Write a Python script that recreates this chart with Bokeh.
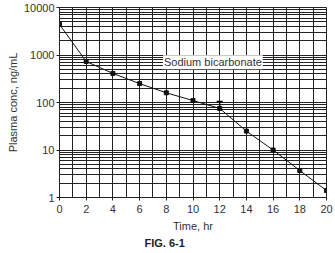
from bokeh.plotting import figure
from bokeh.models import ColumnDataSource, FixedTicker, Label, Whisker, Title, CustomJSTickFormatter
from bokeh.embed import file_html
from bokeh.resources import INLINE

time_hr = [0, 2, 4, 6, 8, 10, 12, 14, 16, 18, 20]
conc = [4400, 730, 410, 250, 160, 110, 75, 25, 10, 3.7, 1.4]
err_time = [12]
err_upper = [105]
x_ticks = [0, 2, 4, 6, 8, 10, 12, 14, 16, 18, 20]
y_ticks = [1, 10, 100, 1000, 10000]
annotation_text = "Sodium bicarbonate"
caption = "FIG. 6-1"

FONT = "Liberation Sans"

p = figure(width=335, height=253, x_range=(0, 20), y_range=(1, 10000),
           y_axis_type="log", output_backend="svg", toolbar_location=None,
           min_border_left=59, min_border_right=9, min_border_top=7, min_border_bottom=56)
p.background_fill_color = "white"
p.border_fill_color = "white"
p.outline_line_color = "#222222"
p.outline_line_width = 1

# grids
p.xgrid.ticker = FixedTicker(ticks=list(range(0, 21)))
p.xgrid.grid_line_color = "#222222"
p.xgrid.grid_line_width = 1
p.xgrid.grid_line_alpha = 1
grid_vals = [m * 10 ** d for d in range(0, 4) for m in range(1, 10)] + [10000]
p.ygrid.ticker = FixedTicker(ticks=grid_vals)
p.ygrid.grid_line_color = "#222222"
p.ygrid.grid_line_width = 1
p.ygrid.grid_line_alpha = 1

p.xaxis.ticker = FixedTicker(ticks=x_ticks)
p.yaxis.ticker = FixedTicker(ticks=y_ticks)
p.yaxis.formatter = CustomJSTickFormatter(code="return String(Math.round(tick));")
for ax in (p.xaxis[0], p.yaxis[0]):
    ax.axis_line_color = "#222222"
    ax.major_tick_line_color = "#222222"
    ax.major_tick_out = 3
    ax.major_tick_in = 0
    ax.minor_tick_out = 0
    ax.minor_tick_in = 0
    ax.major_label_text_font = FONT
    ax.major_label_text_font_size = "11px"
    ax.major_label_text_color = "#333333"
    ax.axis_label_text_font = FONT
    ax.axis_label_text_font_size = "11px"
    ax.axis_label_text_font_style = "normal"
    ax.axis_label_text_color = "#333333"
p.xaxis.axis_label = "Time, hr"
p.yaxis.axis_label = "Plasma conc, ng/mL"
p.xaxis.axis_label_standoff = 4
p.yaxis.axis_label_standoff = 2
p.xaxis.major_label_standoff = 4
p.yaxis.major_label_standoff = 2

src = ColumnDataSource(dict(t=time_hr, c=conc))
p.line("t", "c", source=src, line_color="#111111", line_width=1)
p.scatter("t", "c", source=src, size=4, marker="square", fill_color="#111111", line_color="#111111")

esrc = ColumnDataSource(dict(t=err_time, lo=[conc[time_hr.index(t)] for t in err_time], hi=err_upper))
w = Whisker(source=esrc, base="t", lower="lo", upper="hi", line_color="#111111", line_width=1.5,
            lower_head=None)
w.upper_head.size = 6
w.upper_head.line_width = 1.5
p.add_layout(w)

lab = Label(x=7.75, y=700, text=annotation_text, text_font=FONT, text_font_size="11px",
            text_color="#333333", text_baseline="middle", text_align="left",
            background_fill_color="white", background_fill_alpha=1,
            border_line_color=None, padding=1)
p.add_layout(lab)

cap = Title(text=caption, align="left", offset=85, text_font=FONT, text_font_size="11px",
            text_font_style="bold", text_color="#222222", standoff=0)
p.add_layout(cap, "below")

open("out.html", "w").write(file_html(p, INLINE))
